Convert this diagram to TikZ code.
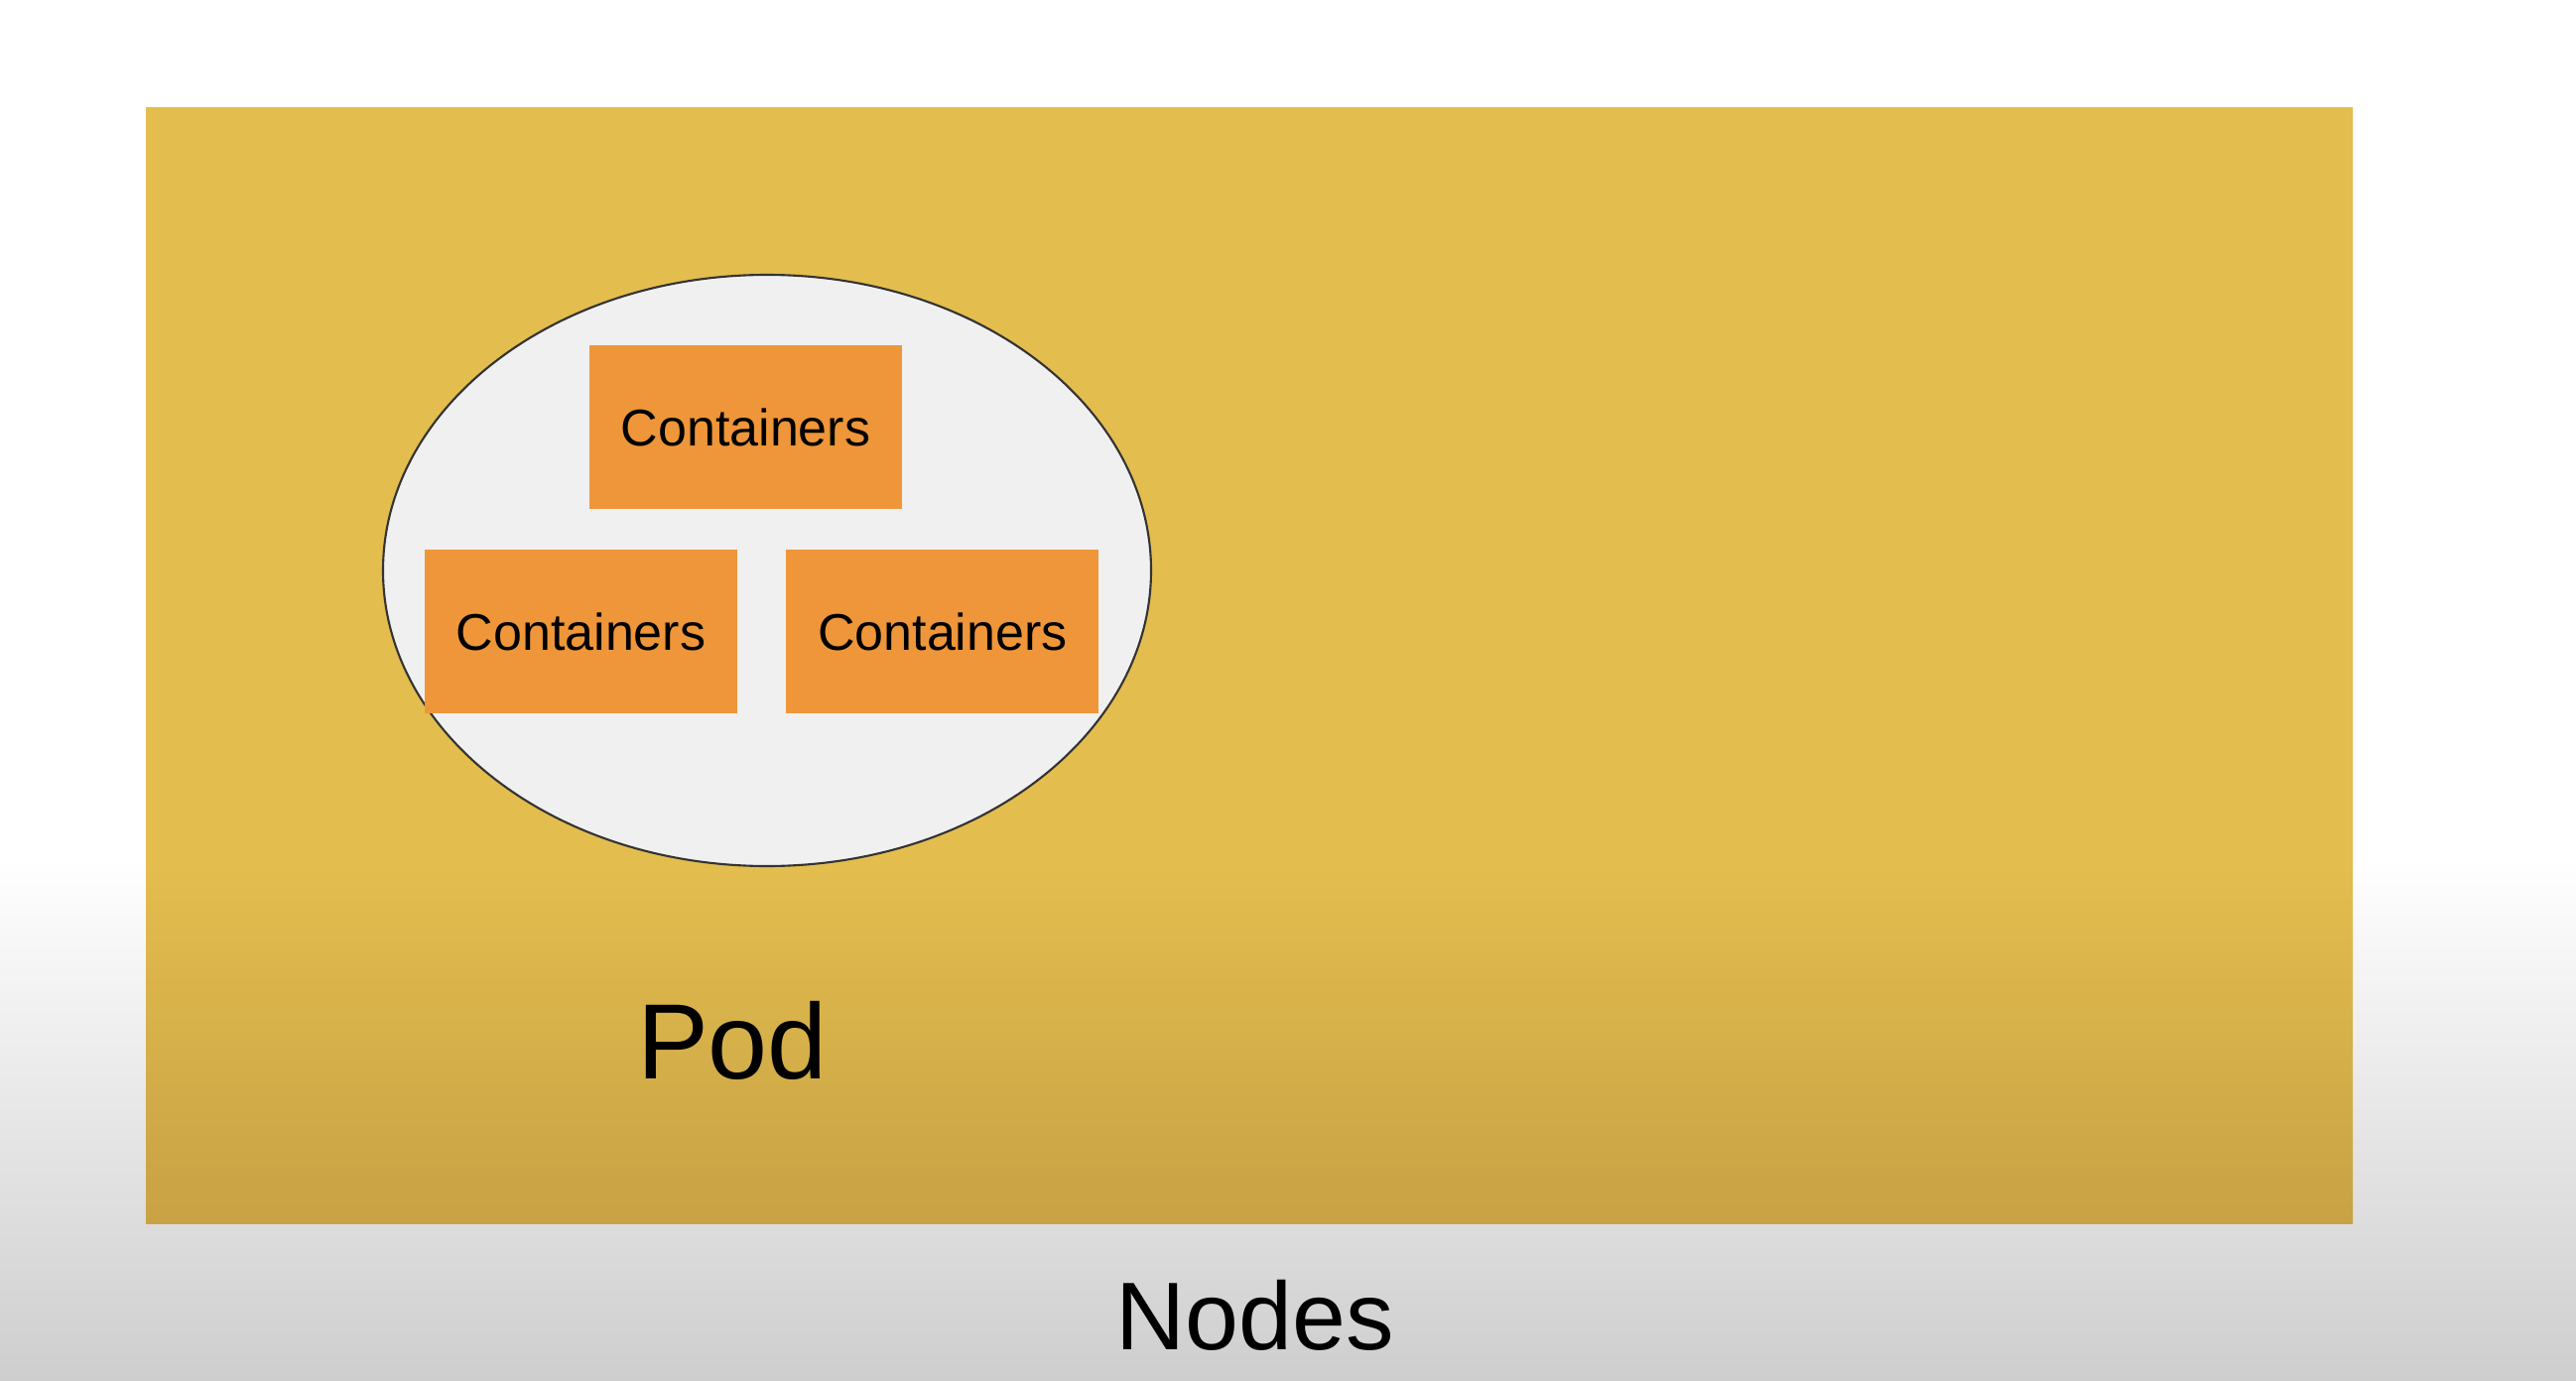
\documentclass[tikz,border=0pt]{standalone}
\usepackage{fontspec}
\setmainfont{Liberation Sans}
\usepackage{tikz}
\usetikzlibrary{shapes.geometric,positioning}
\definecolor{nodeyellow}{HTML}{E3BD4E}
\definecolor{nodeshade}{HTML}{C8A244}
\definecolor{podgray}{HTML}{F0F0F0}
\definecolor{contorange}{HTML}{EE9639}
\definecolor{floorgray}{HTML}{CECECE}
\pgfdeclareverticalshading{nodefade}{100bp}{color(0bp)=(nodeshade); color(25bp)=(nodeshade);
    color(41bp)=(nodeyellow); color(100bp)=(nodeyellow)}
\pgfdeclareverticalshading{slidefade}{100bp}{color(0bp)=(floorgray); color(25bp)=(floorgray);
    color(44bp)=(white); color(100bp)=(white)}
\tikzset{
    nodearea/.style={rectangle, shading=nodefade, minimum width=22.24cm,
                     minimum height=11.24cm, inner sep=0pt},
    pod/.style={ellipse, draw=black!80, line width=0.6pt, fill=podgray,
                minimum width=7.74cm, minimum height=5.96cm, inner sep=0pt},
    container/.style={rectangle, fill=contorange, minimum width=3.15cm,
                      minimum height=1.65cm, inner sep=0pt,
                      font=\fontsize{14.8}{17}\selectfont},
    bigtext/.style={anchor=base, inner sep=0pt},
}
\begin{document}
\begin{tikzpicture}
    % slide background
    \useasboundingbox (0,0) rectangle (25.96,-13.92);
    \shade[shading=slidefade] (0,0) rectangle (25.96,-13.92);
    % node box
    \node [nodearea] (node) at (12.59,-6.71) {};
    % pod with its containers
    \node [pod] (pod) at (7.73,-5.75) {};
    \node [container] (top) at (7.515,-4.305) {Containers};
    \node [container, below=0.4cm of top, xshift=-1.66cm] (left) {Containers};
    \node [container, right=0.48cm of left] (right) {Containers};
    % labels
    \node [bigtext, font=\fontsize{30.7}{34}\selectfont] (podlabel) at (7.38,-10.87) {Pod};
    \node [bigtext, font=\fontsize{27.6}{31}\selectfont] (nodelabel) at (12.65,-13.60) {Nodes};
\end{tikzpicture}
\end{document}
